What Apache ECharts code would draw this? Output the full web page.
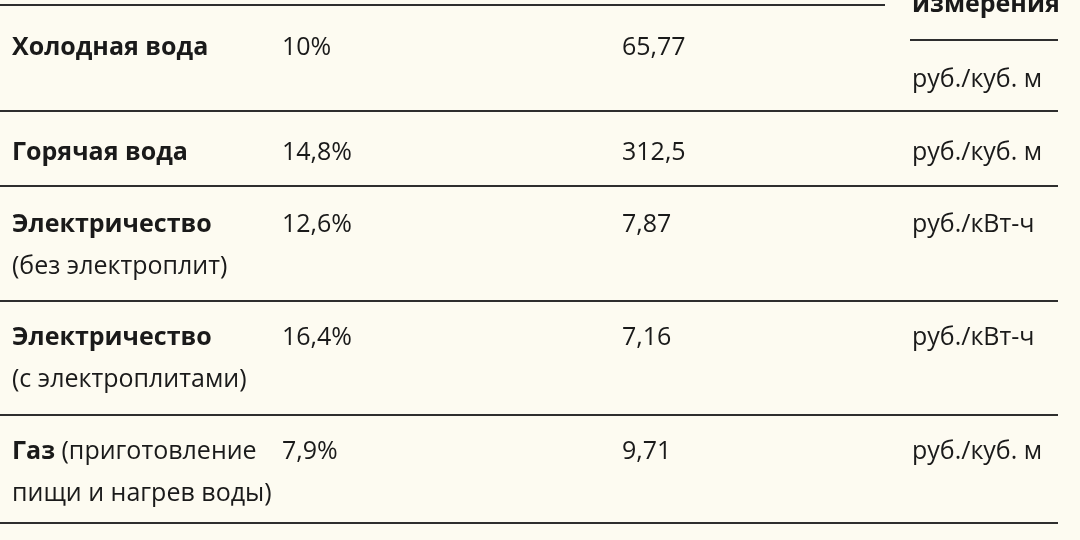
<!DOCTYPE html>
<html><head><meta charset="utf-8">
<script src="https://cdn.jsdelivr.net/npm/echarts@6/dist/echarts.min.js"></script>
<style>html,body{margin:0;padding:0;background:#fdfbf1}#c{width:1080px;height:540px}</style>
</head><body><div id="c"></div>
<script>
// данные таблицы
var names = ['{b|Холодная вода}', '{b|Горячая вода}', '{b|Электричество}\n(без электроплит)', '{b|Электричество}\n(с электроплитами)', '{b|Газ} (приготовление\nпищи и нагрев воды)'];
var growth = ['10%', '14,8%', '12,6%', '16,4%', '7,9%'];
var tariffs = ['65,77', '312,5', '7,87', '7,16', '9,71'];
var units = ['руб./куб. м', 'руб./куб. м', 'руб./кВт-ч', 'руб./кВт-ч', 'руб./куб. м'];
var headerTail = 'измерения';

var rowTop = [27, 132, 204, 317, 431];   // верх первой строки текста
var unitTop = [59, 132, 204, 317, 431];
var lineY = [111, 186, 301, 415, 523];
var colX = [12, 282, 622, 912];

var fontFam = '"Open Sans", "Noto Sans", sans-serif';
var txtColor = '#1a1a1a';
var baseStyle = {fontFamily: fontFam, fontSize: 25, fill: txtColor, lineHeight: 42};
var rich = {b: {fontFamily: fontFam, fontSize: 25, fontWeight: 'bold', fill: txtColor, color: txtColor, lineHeight: 42}};

var g = [];
function txt(x, y, s, extra){
    var st = Object.assign({}, baseStyle, {text: s, x: x, y: y, rich: rich}, extra || {});
    g.push({type: 'text', style: st});
}
function line(x1, y, x2){
    g.push({type: 'line', shape: {x1: x1, y1: y, x2: x2, y2: y}, style: {stroke: '#2e2e2e', lineWidth: 1.8}});
}

line(0, 5, 885);
line(910, 40, 1058);
txt(912, -16, headerTail, {fontWeight: 'bold'});
for (var i = 0; i < names.length; i++) {
    txt(colX[0], rowTop[i], names[i]);
    txt(colX[1], rowTop[i], growth[i]);
    txt(colX[2], rowTop[i], tariffs[i]);
    txt(colX[3], unitTop[i], units[i]);
    line(0, lineY[i], 1058);
}

var chart = echarts.init(document.getElementById('c'));
chart.setOption({backgroundColor: '#fdfbf1', graphic: g});
</script></body></html>
